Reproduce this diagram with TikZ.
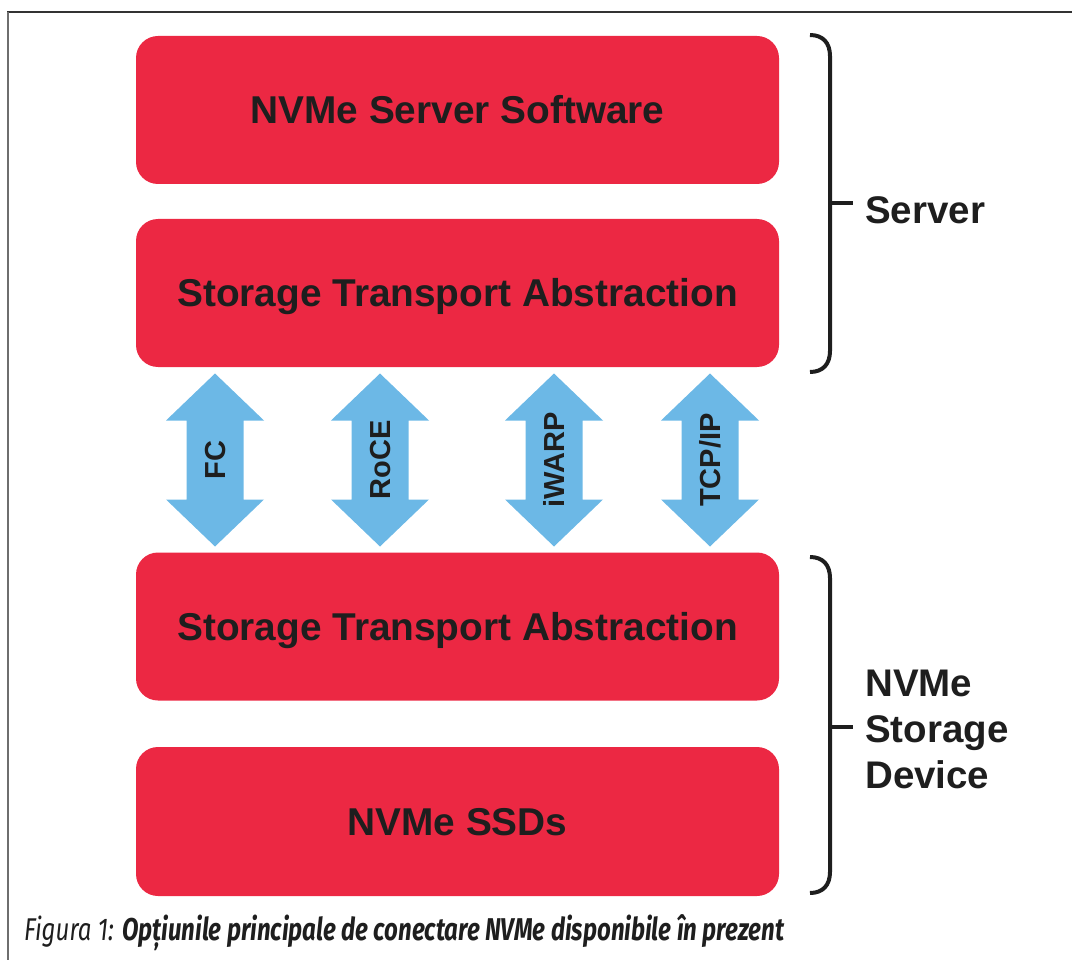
\documentclass[tikz,border=0pt]{standalone}
\usepackage{fontspec}
\usepackage{graphicx}
\setmainfont{Liberation Sans}
\newfontfamily\capfont{Fira Sans}
\usetikzlibrary{calc}
\definecolor{layerred}{RGB}{236,40,67}
\definecolor{linkblue}{RGB}{108,184,230}
\definecolor{inkdark}{RGB}{30,30,30}
\definecolor{frametop}{RGB}{50,50,50}
\definecolor{frameside}{RGB}{110,110,110}

\tikzset{
  layer/.style={fill=layerred, draw=none, rounded corners=22pt,
    minimum width=643pt, minimum height=148pt, inner sep=0pt,
    text=inkdark, font=\bfseries\fontsize{38.8}{44}\selectfont,
    text height=28pt, text depth=0pt},
  linklabel/.style={rotate=90, text=inkdark,
    font=\bfseries\fontsize{29}{32}\selectfont, inner sep=0pt,
    text height=21pt, text depth=0pt},
  sidelabel/.style={anchor=west, text=inkdark,
    font=\bfseries\fontsize{38.5}{46}\selectfont, align=left, inner sep=0pt},
  bracket/.style={draw=inkdark, line width=4pt},
  linkarrow/.pic={
    \fill[linkblue] (0,-86.5) -- (49,-39.5) -- (28.5,-39.5) -- (28.5,39.5)
      -- (49,39.5) -- (0,86.5) -- (-49,39.5) -- (-28.5,39.5)
      -- (-28.5,-39.5) -- (-49,-39.5) -- cycle;
    \node[linklabel] (-label) {#1};
  }
}

\begin{document}
\begin{tikzpicture}[x=1pt,y=-1pt]
  \useasboundingbox (0,0) rectangle (1072,960);

  % frame
  \draw[frametop, line width=2pt] (7,12) -- (1072,12);
  \draw[frameside, line width=2.5pt] (8,12) -- (8,960);

  % layers
  \node[layer] (sw)  at (457.5,110)   {NVMe Server Software};
  \node[layer] (sta) at (457.5,293)   {Storage Transport Abstraction};
  \node[layer] (stb) at (457.5,626.5) {Storage Transport Abstraction};
  \node[layer, minimum height=149pt] (ssd) at (457.5,821.5) {NVMe SSDs};

  % transports between the two abstraction layers
  \pic (fc)    at (215,460) {linkarrow=FC};
  \pic (roce)  at (380,460) {linkarrow=RoCE};
  \pic (iwarp) at (554,460) {linkarrow=iWARP};
  \pic (tcpip) at (710,460) {linkarrow=TCP/IP};

  % server bracket
  \coordinate (srvtop) at (810,35);
  \coordinate (srvbot) at (810,372);
  \coordinate (srvmid) at (830,203.5);
  \draw[bracket] (srvtop) .. controls (823,35) and (830,43) .. (830,56)
    -- (830,351) .. controls (830,364) and (823,372) .. (srvbot);
  \draw[bracket] (srvmid) -- ++(23,0);
  \node[sidelabel] (srv) at (865,210) {Server};

  % storage device bracket
  \coordinate (devtop) at (810,557);
  \coordinate (devbot) at (810,893);
  \coordinate (devmid) at (830,727);
  \draw[bracket] (devtop) .. controls (823,557) and (830,565) .. (830,578)
    -- (830,872) .. controls (830,885) and (823,893) .. (devbot);
  \draw[bracket] (devmid) -- ++(23,0);
  \node[sidelabel] (dev) at (865,729) {NVMe\\Storage\\Device};

  % caption
  \node[anchor=base west, inner sep=0pt, text=inkdark] (caption) at (24,940)
    {\resizebox{760pt}{\height}{\capfont\fontsize{31.5}{34}\selectfont\itshape
      Figura 1: \bfseries Opțiunile principale de conectare NVMe disponibile în prezent}};
\end{tikzpicture}
\end{document}
